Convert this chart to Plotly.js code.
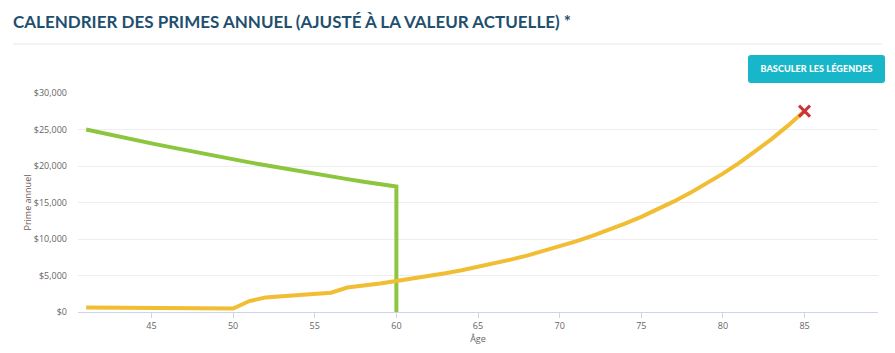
<!DOCTYPE html>
<html>
<head>
<meta charset="utf-8">
<script src="https://cdn.plot.ly/plotly-3.0.1.min.js"></script>
<style>
  html, body { margin: 0; padding: 0; background: #fff; }
  #wrap { position: relative; width: 895px; height: 353px; overflow: hidden; }
  #chart { width: 895px; height: 353px; }
  #btn {
    position: absolute; left: 748px; top: 55px; width: 137px; height: 28px;
    background: #17b7c9; border-radius: 3px; color: #fff;
    font: 900 9px Lato, sans-serif; line-height: 28px; text-align: center;
    letter-spacing: 0.1px;
  }
</style>
</head>
<body>
<div id="wrap">
  <div id="chart"></div>
  <div id="btn">BASCULER LES LÉGENDES</div>
</div>
<script>
// Green series (ages and annual premium)
const agesGreen = [41,42,43,44,45,46,47,48,49,50,51,52,53,54,55,56,57,58,59,60,60];
const valuesGreen = [25000,24500,24000,23550,23100,22650,22200,21750,21350,20900,20500,20100,19700,19300,18900,18550,18200,17850,17500,17200,0];

// Yellow series
const agesYellow = [41,42,43,44,45,46,47,48,49,50,51,52,53,54,55,56,57,58,59,60,61,62,63,64,65,66,67,68,69,70,71,72,73,74,75,76,77,78,79,80,81,82,83,84,85];
const valuesYellow = [600,590,580,570,560,550,530,510,500,480,1500,2000,2150,2300,2450,2650,3350,3600,3900,4250,4580,4930,5320,5730,6170,6650,7170,7730,8330,8970,9670,10420,11230,12100,13040,14060,15150,16320,17590,18950,20420,22010,23720,25560,27520];

// End marker
const endAge = [85];
const endValue = [27520];

const xTicks = [45,50,55,60,65,70,75,80,85];
const yTicks = [0,5000,10000,15000,20000,25000,30000];
const yTickText = ["$0","$5,000","$10,000","$15,000","$20,000","$25,000","$30,000"];

const traces = [
  { x: agesGreen, y: valuesGreen, type: 'scatter', mode: 'lines',
    line: { color: '#8cc63e', width: 4 }, hoverinfo: 'skip', showlegend: false },
  { x: agesYellow, y: valuesYellow, type: 'scatter', mode: 'lines',
    line: { color: '#f0bd33', width: 4 }, hoverinfo: 'skip', showlegend: false },
  { x: endAge, y: endValue, type: 'scatter', mode: 'markers',
    marker: { symbol: 'x-thin', size: 11, line: { color: '#c9353b', width: 3 }, color: '#c9353b' },
    hoverinfo: 'skip', showlegend: false }
];

const layout = {
  width: 895, height: 353,
  margin: { l: 78, r: 17, t: 93, b: 41 },
  paper_bgcolor: '#fff', plot_bgcolor: '#fff',
  font: { family: '"Open Sans", sans-serif', size: 9, color: '#666' },
  title: {
    text: '<b>CALENDRIER DES PRIMES ANNUEL (AJUSTÉ À LA VALEUR ACTUELLE) *</b>',
    x: 0, xref: 'container', xanchor: 'left', y: 1, yref: 'container', yanchor: 'top',
    pad: { t: 16, l: 13 },
    font: { family: 'Lato, sans-serif', size: 17, color: '#1f4f6f' }
  },
  xaxis: {
    range: [40.5, 89.5], tickvals: xTicks, ticks: 'outside', ticklen: 5,
    tickcolor: '#ccd6eb', showline: true, linecolor: '#ccd6eb', linewidth: 1,
    showgrid: false, zeroline: false,
    tickfont: { size: 9, color: '#666' },
    title: { text: 'Âge', font: { size: 9, color: '#666' }, standoff: 2 }
  },
  yaxis: {
    range: [0, 30000], tickvals: yTicks, ticktext: yTickText,
    showgrid: true, gridcolor: '#eeeeee', gridwidth: 1, zeroline: false,
    showline: false, ticks: '', ticklabelstandoff: 10,
    tickfont: { size: 9, color: '#666' },
    title: { text: 'Prime annuel', font: { size: 9, color: '#6e5a58' }, standoff: 0 }
  },
  shapes: [
    { type: 'line', xref: 'paper', yref: 'paper', x0: -0.08125, x1: 1.005, y0: 1.2237, y1: 1.2237,
      line: { color: '#e8e8e8', width: 1 } }
  ]
};

Plotly.newPlot('chart', traces, layout, { displayModeBar: false, staticPlot: true });
</script>
</body>
</html>
